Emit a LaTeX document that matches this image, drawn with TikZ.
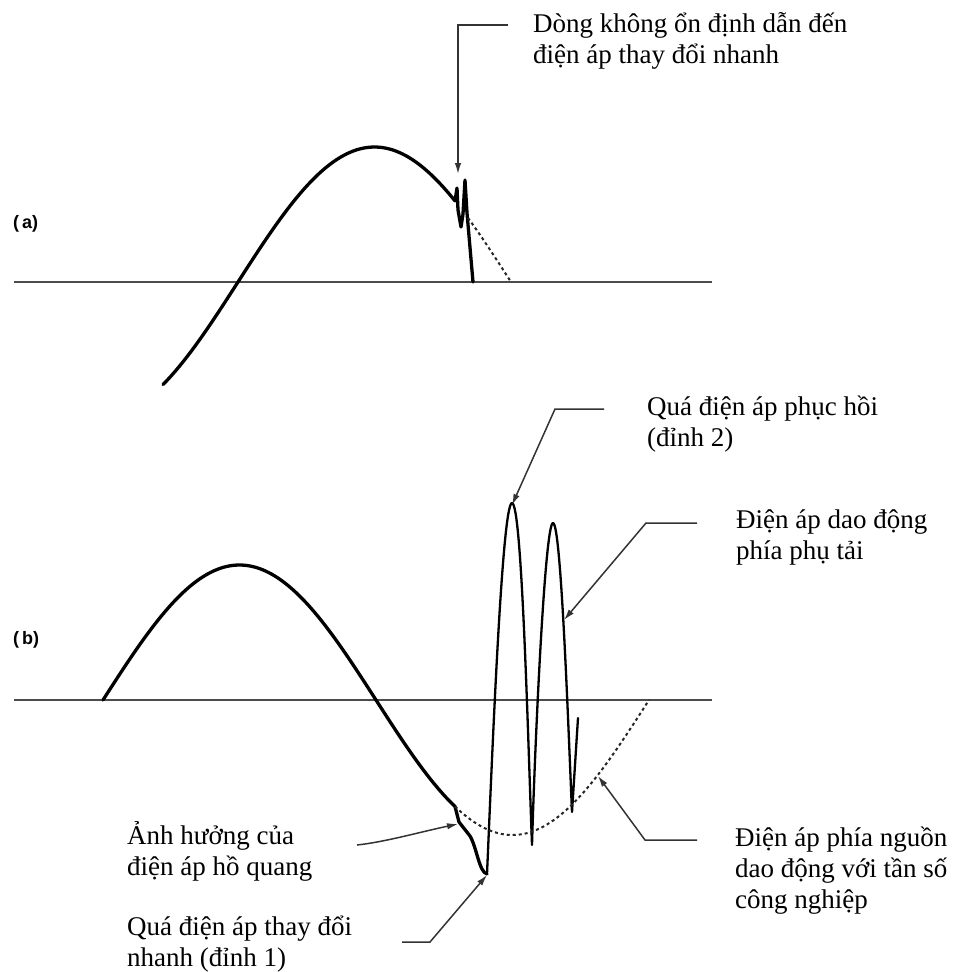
\documentclass[tikz,border=0pt]{standalone}
\usepackage{fontspec}
\setmainfont{Liberation Serif}
\setsansfont{Liberation Sans}
\usetikzlibrary{arrows.meta}
\begin{document}
\begin{tikzpicture}[x=1pt,y=-1pt,
  curve/.style={line width=3.3pt, line cap=round, line join=round},
  osc/.style={line width=2.3pt, line cap=round, line join=round},
  axisline/.style={line width=1.5pt, draw=black!70},
  dotline/.style={line width=2pt, draw=black!85, dash pattern=on 3pt off 3pt},
  leader/.style={line width=1.5pt, draw=black!80, -{Latex[length=11pt,width=6.5pt]}},
  lbl/.style={font=\fontsize{27}{31}\selectfont, align=left, anchor=base west, inner sep=0pt},
  tag/.style={font=\sffamily\bfseries\fontsize{18}{20}\selectfont, anchor=west, inner sep=0pt}]
\useasboundingbox (0,0) rectangle (957,972);

% ---------- (a) ----------
\node[tag] (labA) at (13,224) {(\kern3pt a)};
\coordinate (axAl) at (14,282);
\coordinate (axAr) at (712,282);
\draw[axisline] (axAl) -- (axAr);
\draw[curve] plot[domain=163:455, samples=90] (\x,{282-135*sin(0.659341*(\x-238))})
  -- (457,188) -- (458,210) -- (461,227) -- (463,214) -- (465,180) -- (467,213) -- (473,282);
\draw[dotline] plot[domain=468:511, samples=20] (\x,{282-135*sin(0.659341*(\x-238))});

% base anchor of a multi-line node = baseline of its last line
\node[lbl] (tA) at (533,63) {Dòng không ổn định dẫn đến\\điện áp thay đổi nhanh};
\coordinate (lA1) at (508,25);
\coordinate (lA2) at (458,25);
\coordinate (pA) at (458,174);
\draw[leader] (lA1) -- (lA2) -- (pA);

% ---------- (b) ----------
\node[tag] (labB) at (13,640) {(\kern3pt b)};
\coordinate (axBl) at (14,700);
\coordinate (axBr) at (712,700);
\draw[axisline] (axBl) -- (axBr);
\draw[curve] plot[domain=103:455, samples=120] (\x,{700-135*sin(0.659341*(\x-103))})
  -- (459,822) -- (470,836) .. controls (477,848) and (479,872) .. (487,874);
\draw[osc] (487,874) .. controls (492,760) and (502,503) .. (512,503)
  .. controls (522,503) and (528,740) .. (532,845)
  .. controls (535,740) and (545,523) .. (553,523)
  .. controls (561,523) and (568,720) .. (572,812)
  -- (578,718);
\draw[dotline] plot[domain=455:649, samples=60] (\x,{700-135*sin(0.659341*(\x-103))});

% labels (b)
\node[lbl] (tB) at (647,446) {Quá điện áp phục hồi\\(đỉnh 2)};
\coordinate (lB1) at (604,409);
\coordinate (lB2) at (555,409);
\coordinate (pB) at (512,505);
\draw[leader] (lB1) -- (lB2) -- (pB);

\node[lbl] (tC) at (736,559) {Điện áp dao động\\phía phụ tải};
\coordinate (lC1) at (697,523);
\coordinate (lC2) at (646,523);
\coordinate (pC) at (564,620);
\draw[leader] (lC1) -- (lC2) -- (pC);

\node[lbl] (tD) at (735,908) {Điện áp phía nguồn\\dao động với tần số\\công nghiệp};
\coordinate (lD1) at (697,840);
\coordinate (lD2) at (645,840);
\coordinate (pD) at (598,776);
\draw[leader] (lD1) -- (lD2) -- (pD);

\node[lbl] (tE) at (127,875) {Ảnh hưởng của\\điện áp hồ quang};
\coordinate (lE1) at (357,845);
\coordinate (pE) at (458,824);
\draw[leader] (lE1) .. controls (385,842) and (420,832) .. (pE);

\node[lbl] (tF) at (127,966) {Quá điện áp thay đổi\\nhanh (đỉnh 1)};
\coordinate (lF1) at (402,942);
\coordinate (lF2) at (430,942);
\coordinate (pF) at (487,875);
\draw[leader] (lF1) -- (lF2) -- (pF);
\end{tikzpicture}
\end{document}
